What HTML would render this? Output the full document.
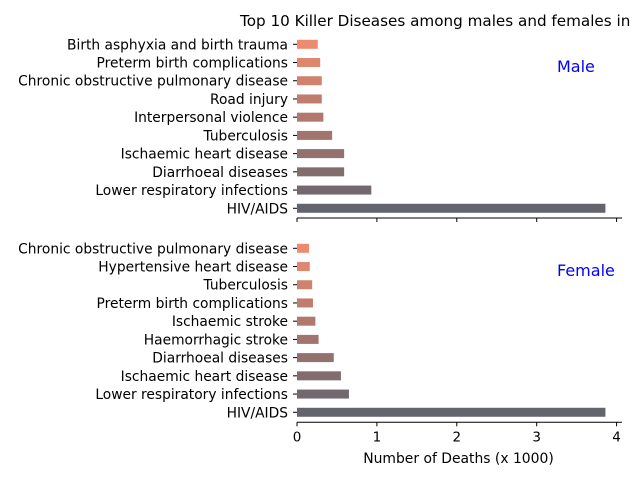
<!DOCTYPE html>
<html><head><meta charset="utf-8"><style>
html,body{margin:0;padding:0;background:#fff;}
svg{display:block;font-family:"DejaVu Sans","Liberation Sans",sans-serif;}
</style></head><body>
<svg id="chart" width="640" height="480">
<text x="240" y="26" font-size="15.2" fill="#000">Top 10 Killer Diseases among males and females in</text>
<g id="plots"></g>
<text x="458.5" y="463" font-size="13.9" text-anchor="middle" fill="#000">Number of Deaths (x 1000)</text>
</svg>
<script>
const maleCategories=["Birth asphyxia and birth trauma","Preterm birth complications","Chronic obstructive pulmonary disease","Road injury","Interpersonal violence","Tuberculosis","Ischaemic heart disease","Diarrhoeal diseases","Lower respiratory infections","HIV/AIDS"];
const maleValues=[0.26,0.29,0.31,0.31,0.33,0.44,0.59,0.59,0.93,3.86];
const femaleCategories=["Chronic obstructive pulmonary disease","Hypertensive heart disease","Tuberculosis","Preterm birth complications","Ischaemic stroke","Haemorrhagic stroke","Diarrhoeal diseases","Ischaemic heart disease","Lower respiratory infections","HIV/AIDS"];
const femaleValues=[0.15,0.16,0.19,0.20,0.23,0.27,0.46,0.55,0.65,3.86];
const xTicks=[0,1,2,3,4];
const NS="http://www.w3.org/2000/svg";
const g=document.getElementById('plots');
const x0=297,pxPerUnit=79.9;
function xs(v){return x0+v*pxPerUnit;}
function mk(t,a){const e=document.createElementNS(NS,t);for(const k in a)e.setAttribute(k,a[k]);g.appendChild(e);return e;}
function color(i,n){const c1=[238,138,110],c2=[100,100,110];const t=i/(n-1);return `rgb(${c1.map((c,j)=>Math.round(c+(c2[j]-c)*t)).join(',')})`;}
function panel(cats,vals,top,spineY,label,labelY,showTickLabels,prefix){
  const step=18.22;
  cats.forEach((c,i)=>{
    const y=top+i*step;
    const r=mk('rect',{x:x0,y:y-4.5,width:xs(vals[i])-x0,height:9,fill:color(i,cats.length)});
    
    
    const tk=mk('line',{x1:x0-4,x2:x0,y1:y,y2:y,stroke:'#000','stroke-width':1});
    
    
    const t=mk('text',{x:x0-9,y:y+5,'font-size':13.8,'text-anchor':'end',fill:'#000'});
    t.textContent=c;
    
    
  });
  const sp=mk('line',{x1:x0,x2:622,y1:spineY,y2:spineY,stroke:'#000','stroke-width':1});
  
  
  xTicks.forEach(v=>{
    const l=mk('line',{x1:xs(v),x2:xs(v),y1:spineY,y2:spineY+4,stroke:'#000','stroke-width':1});
    
    
    if(showTickLabels){
      const t=mk('text',{x:xs(v),y:spineY+19,'font-size':13.5,'text-anchor':'middle',fill:'#000'});
      t.textContent=v;
      
      
    }
  });
  const lb=mk('text',{x:557,y:labelY,'font-size':16,fill:'#0000ff'});
  lb.textContent=label;
  
  
}
panel(maleCategories,maleValues,44.3,218,'Male',72,false,'male');
panel(femaleCategories,femaleValues,248.3,422.3,'Female',276,true,'female');
</script>
</body></html>
